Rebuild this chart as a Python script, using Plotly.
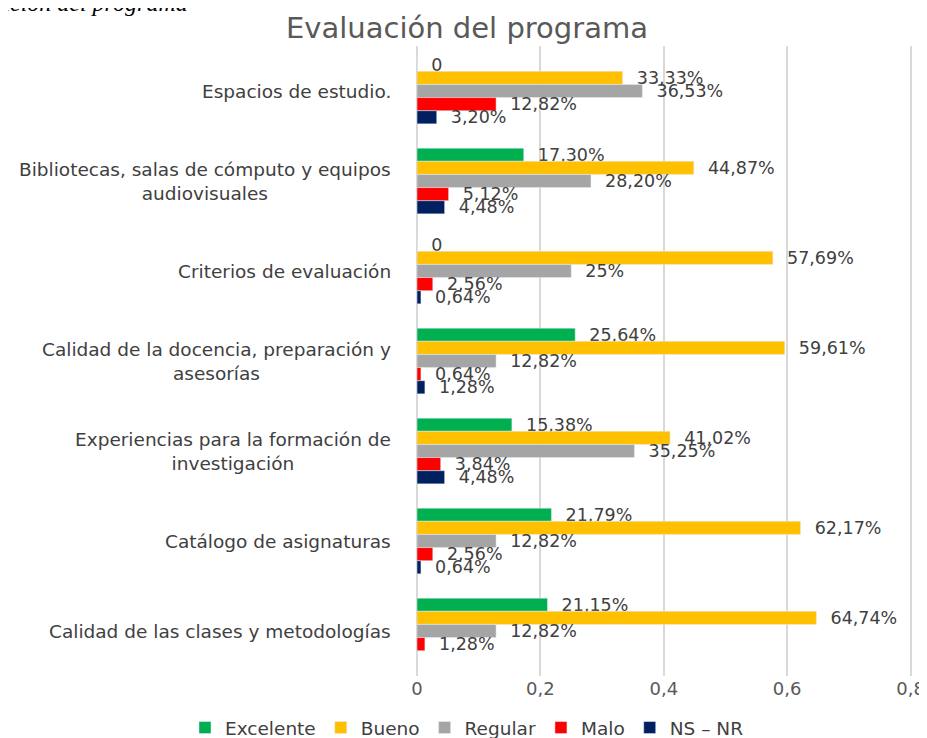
import plotly.graph_objects as go

# --- data ---
categories = [
    "Espacios de estudio.",
    "Bibliotecas, salas de cómputo y equipos<br>audiovisuales",
    "Criterios de evaluación",
    "Calidad de la docencia, preparación y<br>asesorías",
    "Experiencias para la formación de<br>investigación",
    "Catálogo de asignaturas",
    "Calidad de las clases y metodologías",
]
excelente = [0, 0.1730, 0, 0.2564, 0.1538, 0.2179, 0.2115]
bueno = [0.3333, 0.4487, 0.5769, 0.5961, 0.4102, 0.6217, 0.6474]
regular = [0.3653, 0.2820, 0.25, 0.1282, 0.3525, 0.1282, 0.1282]
malo = [0.1282, 0.0512, 0.0256, 0.0064, 0.0384, 0.0256, 0.0128]
ns_nr = [0.0320, 0.0448, 0.0064, 0.0128, 0.0448, 0.0064, None]

series = [
    ("Excelente", excelente, "#00B050"),
    ("Bueno", bueno, "#FFC000"),
    ("Regular", regular, "#A5A5A5"),
    ("Malo", malo, "#FF0000"),
    ("NS – NR", ns_nr, "#002060"),
]

FONT = "DejaVu Sans"
TXT = "#404040"

# page body has an 8px margin, so work in a slightly smaller figure
W, H = 919, 730
L, R, T, B = 409, 14, 38, 62
PW, PH = W - L - R, H - T - B
XMAX = 0.804  # a bit past 0.8 so the last gridline is kept


def pct_label(v):
    if v is None:
        return ""
    if v == 0:
        return "\u00a0\u00a00"
    s = f"{v * 100:.2f}".replace(".", ",")
    if s.endswith(",00"):
        s = s[:-3]
    return "\u00a0\u00a0" + s + "%"


fig = go.Figure()
for name, vals, color in series:
    fig.add_trace(go.Bar(
        y=categories, x=vals, name=name, orientation="h",
        marker_color=color,
        text=[pct_label(v) for v in vals],
        textposition="outside", cliponaxis=False, constraintext="none",
        textfont=dict(family=FONT, size=17.5, color=TXT),
    ))

# category labels (centered multi-line like the original)
for c in categories:
    fig.add_annotation(
        x=0, xref="paper", y=c, yref="y", xanchor="right", xshift=-24,
        text=c, showarrow=False, align="center",
        font=dict(family=FONT, size=18.5, color=TXT),
    )

# clipped caption from the source document
fig.add_annotation(
    x=(182 - L) / PW, xref="paper", y=1 + (T + 5) / PH, yref="paper",
    text="<i>Evaluación del programa</i>", showarrow=False,
    xanchor="right", yanchor="middle",
    font=dict(family="Liberation Serif", size=24, color="black"),
)

fig.update_layout(
    width=W, height=H,
    margin=dict(l=L, r=R, t=T, b=B, autoexpand=False),
    paper_bgcolor="white", plot_bgcolor="white",
    separators=",.",
    title=dict(text="Evaluación del programa", x=459 / W, xanchor="center",
               y=1 - 20 / H, yanchor="middle",
               font=dict(family=FONT, size=29, color="#595959")),
    barmode="group", bargap=0.27, bargroupgap=0,
    legend=dict(orientation="h", x=(177 - L) / PW, xanchor="left",
                y=-(720 - (T + PH)) / PH, yanchor="middle",
                font=dict(family=FONT, size=18.5, color=TXT),
                itemwidth=30, traceorder="normal"),
    showlegend=True,
)
fig.update_xaxes(range=[0, XMAX], tickvals=[0, 0.2, 0.4, 0.6, 0.8],
                 showgrid=True, gridcolor="#D9D9D9",
                 gridwidth=1.5, zeroline=True, zerolinecolor="#D9D9D9",
                 zerolinewidth=1.5, ticks="", ticklen=0,
                 tickfont=dict(family=FONT, size=18, color="#595959"))
fig.update_yaxes(autorange="reversed", showticklabels=False, showgrid=False,
                 zeroline=False, ticks="")

fig.write_html("out.html")
